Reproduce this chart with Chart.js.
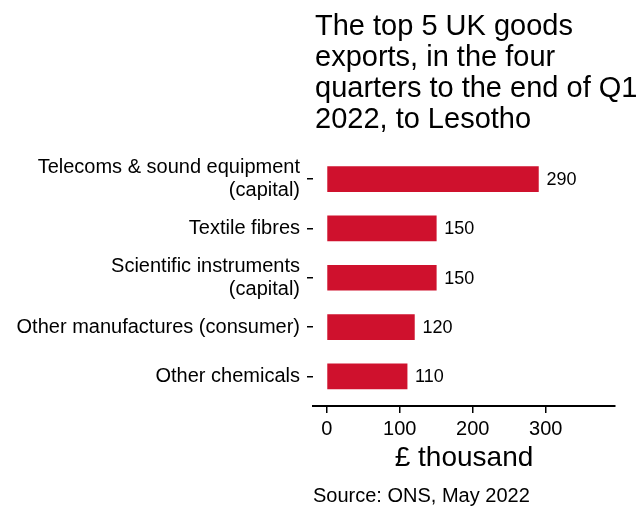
<!DOCTYPE html>
<html>
<head>
<meta charset="utf-8">
<script src="https://cdn.jsdelivr.net/npm/chart.js@4"></script>
<style>
  html, body { margin: 0; padding: 0; background: #fff; }
  #wrap { width: 640px; height: 506px; }
</style>
</head>
<body>
<div id="wrap"><canvas id="exportsChart"></canvas></div>
<script>
// data
const categories = [
    'Telecoms & sound equipment (capital)',
    'Textile fibres',
    'Scientific instruments (capital)',
    'Other manufactures (consumer)',
    'Other chemicals'
];
const values = [290, 150, 150, 120, 110];
const xTicks = [0, 100, 200, 300];
const titleLines = [
    'The top 5 UK goods',
    'exports, in the four',
    'quarters to the end of Q1',
    '2022, to Lesotho'
];
const xTitle = '£ thousand';
const sourceText = 'Source: ONS, May 2022';

const FONT = '"Liberation Sans", Arial, sans-serif';
const BAR_RED = '#CF112D';

// simple word wrap, like str_wrap
function wrap(text, width) {
    const words = text.split(' ');
    const lines = [];
    let line = '';
    words.forEach(w => {
        if (line && (line + ' ' + w).length > width) {
            lines.push(line);
            line = w;
        } else {
            line = line ? line + ' ' + w : w;
        }
    });
    if (line) lines.push(line);
    return lines;
}

// title, caption and value labels
const annotations = {
    id: 'annotations',
    afterDraw(chart) {
        const ctx = chart.ctx;
        const area = chart.chartArea;
        ctx.save();
        ctx.fillStyle = '#000';
        ctx.textAlign = 'left';
        ctx.textBaseline = 'alphabetic';

        ctx.font = '29px ' + FONT;
        titleLines.forEach((t, i) => {
            ctx.fillText(t, area.left + 2, 35 + i * 31);
        });

        ctx.font = '20px ' + FONT;
        ctx.fillText(sourceText, area.left, 502);

        ctx.font = '18px ' + FONT;
        ctx.textBaseline = 'middle';
        const meta = chart.getDatasetMeta(0);
        meta.data.forEach((bar, i) => {
            ctx.fillText(String(values[i]), bar.x + 8, bar.y + 1);
        });
        ctx.restore();
    }
};

const ctx = document.getElementById('exportsChart').getContext('2d');

new Chart(ctx, {
    type: 'bar',
    data: {
        datasets: [{
            data: categories.map((c, i) => ({ x: values[i], y: i + 1 })),
            backgroundColor: BAR_RED,
            borderWidth: 0,
            barThickness: 25
        }]
    },
    options: {
        indexAxis: 'y',
        responsive: true,
        maintainAspectRatio: false,
        animation: false,
        layout: {
            padding: { top: 149.5, right: 25, bottom: 34, left: 0 }
        },
        plugins: {
            legend: { display: false },
            tooltip: { enabled: false }
        },
        scales: {
            x: {
                type: 'linear',
                min: -19,
                max: 395,
                afterFit: (scale) => { scale.height = 66; },
                afterBuildTicks: (scale) => {
                    scale.ticks = xTicks.map(v => ({ value: v }));
                },
                border: { display: true, color: '#000', width: 2 },
                grid: {
                    drawOnChartArea: false,
                    drawTicks: true,
                    tickLength: 7,
                    color: '#000',
                    lineWidth: 1.5
                },
                ticks: {
                    color: '#000',
                    padding: 4,
                    font: { family: FONT, size: 20 }
                },
                title: {
                    display: true,
                    text: xTitle,
                    color: '#000',
                    padding: 0,
                    font: { family: FONT, size: 28, lineHeight: 1 }
                }
            },
            y: {
                type: 'linear',
                min: 0.4,
                max: 5.6,
                reverse: true,
                offset: false,
                afterFit: (scale) => { scale.width = 313; },
                afterBuildTicks: (scale) => {
                    scale.ticks = categories.map((c, i) => ({ value: i + 1 }));
                },
                border: { display: false },
                grid: {
                    offset: false,
                    drawOnChartArea: false,
                    drawTicks: true,
                    tickLength: 6,
                    color: '#000',
                    lineWidth: 1.5
                },
                ticks: {
                    color: '#000',
                    padding: 7,
                    font: { family: FONT, size: 20, lineHeight: 1.15 },
                    callback: (value) => wrap(categories[value - 1] || '', 30)
                }
            }
        }
    },
    plugins: [annotations]
});
</script>
</body>
</html>
